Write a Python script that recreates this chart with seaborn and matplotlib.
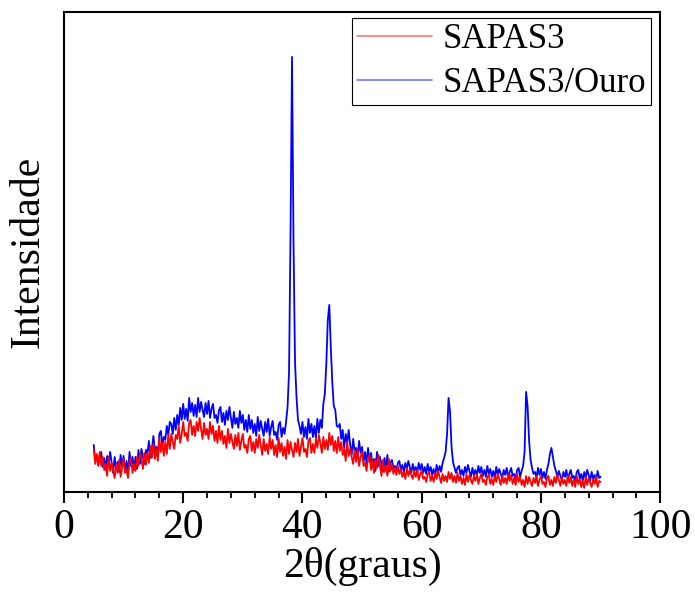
import numpy as np
import pandas as pd
import matplotlib
matplotlib.use("Agg")
import matplotlib.pyplot as plt
import seaborn as sns
from matplotlib.ticker import MultipleLocator

# 2theta grid (degrees), 0.25 step from 5 to 90
two_theta = np.arange(5, 90.001, 0.25)

# SAPAS3 (red) - intensity, 4 points per degree
sapas3 = [
    43, 28, 38, 26,  40, 26, 35, 22,  28, 16, 35, 21,  29, 21, 14, 28,  19, 32, 15, 24,   # 5-9
    33, 19, 22, 14,  31, 34, 19, 28,  21, 35, 26, 39,  33, 23, 39, 27,  39, 29, 46, 34,   # 10-14
    48, 33, 43, 31,  54, 40, 49, 36,  50, 38, 57, 43,  58, 50, 43, 57,  53, 66, 49, 58,   # 15-19
    70, 56, 59, 51,  69, 72, 57, 66,  56, 70, 61, 74,  63, 53, 69, 57,  63, 53, 70, 58,   # 20-24
    66, 51, 61, 49,  66, 52, 61, 48,  56, 44, 63, 49,  58, 50, 43, 57,  46, 59, 42, 51,   # 25-29
    58, 44, 47, 39,  53, 56, 41, 50,  39, 53, 44, 57,  47, 37, 53, 41,  48, 38, 55, 43,   # 30-34
    52, 37, 47, 35,  54, 40, 49, 36,  45, 33, 52, 38,  50, 42, 35, 49,  40, 53, 36, 45,   # 35-39
    54, 40, 43, 35,  51, 54, 39, 48,  39, 53, 44, 57,  49, 39, 55, 43,  52, 42, 59, 47,   # 40-44
    56, 41, 51, 39,  55, 41, 50, 37,  43, 31, 50, 36,  43, 35, 28, 42,  30, 43, 26, 35,   # 45-49
    40, 26, 29, 21,  34, 37, 22, 31,  19, 33, 24, 37,  26, 16, 32, 20,  26, 16, 33, 21,   # 50-54
    27, 18, 24, 17,  26, 18, 23, 15,  20, 13, 24, 16,  22, 17, 13, 21,  15, 22, 12, 18,   # 55-59
    21, 13, 15, 10,  18, 20, 11, 16,  10, 19, 13, 21,  15, 9, 18, 11,   16, 10, 20, 13,   # 60-64
    19, 10, 16, 9,   19, 11, 16, 8,   14, 7, 18, 10,   17, 12, 8, 16,   11, 18, 8, 14,    # 65-69
    18, 10, 12, 7,   15, 17, 8, 13,   7, 16, 10, 18,   13, 7, 16, 9,    14, 8, 18, 11,    # 70-74
    17, 8, 14, 7,    18, 10, 15, 7,   12, 5, 16, 8,    15, 10, 6, 14,   9, 16, 6, 12,     # 75-79
    16, 8, 10, 5,    14, 16, 7, 12,   6, 15, 9, 17,    12, 6, 15, 8,    12, 6, 16, 9,     # 80-84
    15, 6, 12, 5,    16, 8, 13, 5,    11, 4, 15, 7,    14, 9, 5, 13,    8, 15, 5, 11,     # 85-89
    10,                                                                                   # 90
]

# SAPAS3/Ouro (blue)
sapas3_ouro = [
    47, 32, 35, 27,  37, 40, 25, 34,  22, 36, 27, 40,  29, 19, 35, 23,  30, 20, 37, 25,   # 5-9
    36, 21, 31, 19,  40, 26, 35, 22,  35, 23, 42, 28,  43, 35, 28, 42,  38, 51, 34, 43,   # 10-14
    56, 42, 45, 37,  58, 61, 46, 55,  52, 66, 57, 70,  68, 58, 74, 62,  77, 67, 84, 72,   # 15-19
    88, 73, 83, 71,  94, 80, 89, 76,  87, 75, 94, 80,  90, 82, 75, 89,  78, 91, 74, 83,   # 20-24
    88, 74, 77, 69,  82, 85, 70, 79,  67, 81, 72, 85,  74, 64, 80, 68,  74, 64, 81, 69,   # 25-29
    77, 62, 72, 60,  77, 63, 72, 59,  68, 56, 75, 61,  71, 63, 56, 70,  60, 73, 56, 65,   # 30-34
    71, 57, 60, 52,  67, 70, 55, 64,  58, 70, 85, 120, 260, 435, 250, 130, 95, 72, 66, 58,  # 35-39
    70, 55, 65, 53,  73, 59, 68, 55,  66, 54, 73, 59,  72, 64, 88, 98,  128, 172, 187, 145,  # 40-44
    110, 86, 82, 66, 65, 68, 53, 62,  44, 58, 49, 62,  47, 37, 53, 41,  44, 34, 51, 39,   # 45-49
    45, 30, 40, 28,  44, 30, 39, 26,  33, 21, 40, 26,  35, 27, 20, 34,  24, 37, 20, 29,   # 50-54
    32, 24, 26, 21,  29, 31, 22, 27,  20, 29, 23, 31,  25, 19, 28, 21,  25, 19, 29, 22,   # 55-59
    28, 19, 25, 18,  28, 20, 25, 17,  23, 16, 27, 19,  26, 20, 29, 34,  40, 58, 94, 80,   # 60-64
    45, 30, 24, 19,  24, 26, 17, 22,  16, 25, 19, 27,  21, 15, 24, 17,  22, 16, 26, 19,   # 65-69
    25, 16, 22, 15,  26, 18, 23, 15,  21, 14, 25, 17,  23, 18, 14, 22,  17, 24, 14, 20,   # 70-74
    24, 16, 18, 13,  22, 24, 15, 21,  26, 40, 100, 86, 52, 32, 24, 18,  20, 14, 24, 17,   # 75-79
    23, 14, 20, 13,  22, 28, 38, 44,  35, 26, 21, 15,  21, 16, 12, 20,  15, 22, 12, 18,   # 80-84
    22, 14, 16, 11,  20, 22, 13, 18,  11, 20, 14, 22,  17, 11, 20, 13,  17, 11, 21, 14,   # 85-89
    15,                                                                                   # 90
]

df_red = pd.DataFrame({"x": two_theta, "y": sapas3})
df_blue = pd.DataFrame({"x": two_theta, "y": sapas3_ouro})

sns.set_style("ticks")
plt.rcParams["font.family"] = ["Liberation Serif", "DejaVu Serif"]
plt.rcParams["text.color"] = "black"
plt.rcParams["axes.labelcolor"] = "black"
plt.rcParams["xtick.color"] = "black"

fig = plt.figure(figsize=(6.95, 5.97), dpi=100)
ax = fig.add_axes([0.092, 0.176, 0.858, 0.804])

# blue first, red drawn on top
sns.lineplot(data=df_blue, x="x", y="y", color="#0000ff", linewidth=1.3,
             estimator=None, sort=False, ax=ax, label="SAPAS3/Ouro")
sns.lineplot(data=df_red, x="x", y="y", color="#ff0000", linewidth=1.3,
             estimator=None, sort=False, ax=ax, label="SAPAS3")

ax.set_xlim(0, 100)
ax.set_ylim(0, 480)
ax.xaxis.set_major_locator(MultipleLocator(20))
ax.xaxis.set_minor_locator(MultipleLocator(4))
ax.set_yticks([])
ax.tick_params(axis="x", which="major", direction="out", length=8, width=1.5,
               labelsize=30, pad=4)
ax.tick_params(axis="x", which="minor", direction="out", length=4, width=1.3)
for s in ax.spines.values():
    s.set_visible(True)
    s.set_linewidth(1.5)
    s.set_color("black")

ax.set_xlabel("2θ(graus)", fontsize=30, labelpad=0)
ax.set_ylabel("Intensidade", fontsize=30, labelpad=12)

h, l = ax.get_legend_handles_labels()
leg = ax.legend(h[::-1], l[::-1], loc="upper right", bbox_to_anchor=(0.985, 0.987),
                fontsize=25, frameon=True, fancybox=False, edgecolor="black",
                framealpha=1, handlelength=2.15, handletextpad=0.3,
                labelspacing=0.3, borderpad=0.15, borderaxespad=0)
leg.get_frame().set_linewidth(0.8)
for line in leg.get_lines():
    line.set_alpha(0.55)
    line.set_linewidth(1.2)

fig.savefig("out.png", dpi=100)
